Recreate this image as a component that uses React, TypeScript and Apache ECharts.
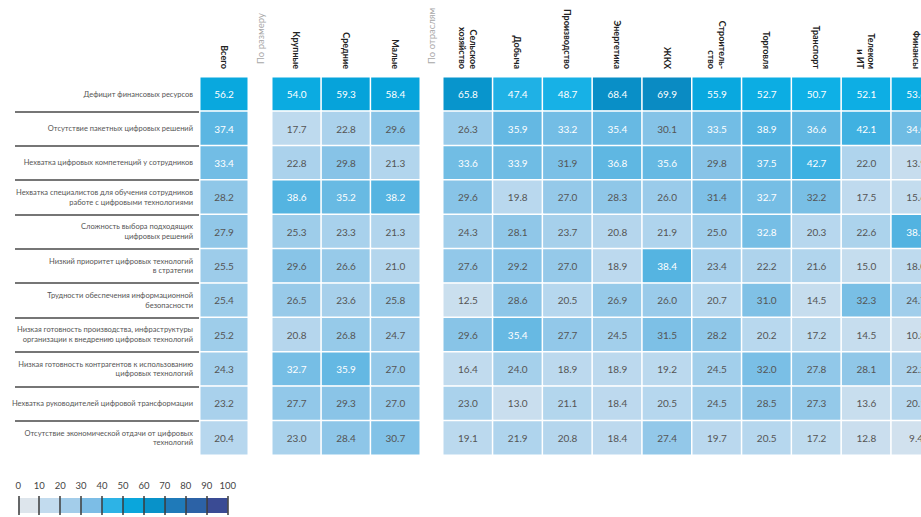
import React, { useEffect, useRef } from "react";
import * as echarts from "echarts";

const rowLabels = [
  "Дефицит финансовых ресурсов",
  "Отсутствие пакетных цифровых решений",
  "Нехватка цифровых компетенций у сотрудников",
  "Нехватка специалистов для обучения сотрудников\nработе с цифровыми технологиями",
  "Сложность выбора подходящих\nцифровых решений",
  "Низкий приоритет цифровых технологий\nв стратегии",
  "Трудности обеспечения информационной\nбезопасности",
  "Низкая готовность производства, инфраструктуры\nорганизации к внедрению цифровых технологий",
  "Низкая готовность контрагентов к использованию\nцифровых технологий",
  "Нехватка руководителей цифровой трансформации",
  "Отсутствие экономической отдачи от цифровых\nтехнологий",
];

const totalCols = ["Всего"];
const sizeCols = ["Крупные", "Средние", "Малые"];
const industryCols = [
  "Сельское\nхозяйство",
  "Добыча",
  "Производство",
  "Энергетика",
  "ЖКХ",
  "Строитель-\nство",
  "Торговля",
  "Транспорт",
  "Телеком\nи ИТ",
  "Финансы",
];
const groupTitles = ["По размеру", "По отраслям"];

const totalValues = [56.2, 37.4, 33.4, 28.2, 27.9, 25.5, 25.4, 25.2, 24.3, 23.2, 20.4];

const sizeValues = [
  [54.0, 59.3, 58.4],
  [17.7, 22.8, 29.6],
  [22.8, 29.8, 21.3],
  [38.6, 35.2, 38.2],
  [25.3, 23.3, 21.3],
  [29.6, 26.6, 21.0],
  [26.5, 23.6, 25.8],
  [20.8, 26.8, 24.7],
  [32.7, 35.9, 27.0],
  [27.7, 29.3, 27.0],
  [23.0, 28.4, 30.7],
];

const industryValues = [
  [65.8, 47.4, 48.7, 68.4, 69.9, 55.9, 52.7, 50.7, 52.1, 53.6],
  [26.3, 35.9, 33.2, 35.4, 30.1, 33.5, 38.9, 36.6, 42.1, 34.0],
  [33.6, 33.9, 31.9, 36.8, 35.6, 29.8, 37.5, 42.7, 22.0, 13.9],
  [29.6, 19.8, 27.0, 28.3, 26.0, 31.4, 32.7, 32.2, 17.5, 15.6],
  [24.3, 28.1, 23.7, 20.8, 21.9, 25.0, 32.8, 20.3, 22.6, 38.9],
  [27.6, 29.2, 27.0, 18.9, 38.4, 23.4, 22.2, 21.6, 15.0, 18.0],
  [12.5, 28.6, 20.5, 26.9, 26.0, 20.7, 31.0, 14.5, 32.3, 24.7],
  [29.6, 35.4, 27.7, 24.5, 31.5, 28.2, 20.2, 17.2, 14.5, 10.8],
  [16.4, 24.0, 18.9, 18.9, 19.2, 24.5, 32.0, 27.8, 28.1, 22.2],
  [23.0, 13.0, 21.1, 18.4, 20.5, 24.5, 28.5, 27.3, 13.6, 20.1],
  [19.1, 21.9, 20.8, 18.4, 27.4, 19.7, 20.5, 17.2, 12.8, 9.4],
];

const legendBuckets = ["0-10", "10-20", "20-30", "30-40", "40-50", "50-60", "60-70", "70-80", "80-90", "90-100"];
const legendColors = [
  "#dde5ec", "#c2dbee", "#a3cdea", "#7cbde6", "#2db3e6",
  "#0aa6dc", "#0892c9", "#1f7ab9", "#2c62a6", "#3a4b94",
];
const scaleColors = [
  "#e1e7ed", "#d0e1ee", "#b9d8ee", "#86c3e7", "#4cb1e0",
  "#0fb1e7", "#05a2d9", "#0a8bc3", "#2272b2", "#3558a0", "#3b4893",
];

const WHITE_TEXT_FROM = 32.5;
const FONT = "Lato, 'Open Sans', sans-serif";

function toCells(rows: number[][]) {
  const out: any[] = [];
  rows.forEach((row, r) =>
    row.forEach((v, c) => {
      out.push({
        value: [c, r, v],
        label: { color: v >= WHITE_TEXT_FROM ? "#ffffff" : "#555555" },
      });
    })
  );
  return out;
}

export default function App() {
  const ref = useRef<HTMLDivElement>(null);

  useEffect(() => {
    if (!ref.current) return;
    const chart = echarts.init(ref.current, null, { renderer: "svg" });

    const top = 77;
    const height = 378;

    const headerAxis = (gridIndex: number, data: string[]) => ({
      type: "category",
      gridIndex,
      data,
      position: "top",
      axisLine: { show: false },
      axisTick: { show: false },
      splitLine: { show: false },
      axisLabel: {
        rotate: 90,
        margin: 8,
        fontSize: 9,
        fontWeight: "bold",
        lineHeight: 11,
        color: "#222",
        fontFamily: FONT,
        interval: 0,
      },
    });

    const hiddenRowAxis = (gridIndex: number) => ({
      type: "category",
      gridIndex,
      data: rowLabels,
      inverse: true,
      show: false,
    });

    const heat = (idx: number, data: any[]) => ({
      type: "heatmap",
      xAxisIndex: idx,
      yAxisIndex: idx,
      data,
      itemStyle: { borderColor: "#ffffff", borderWidth: 1.5 },
      label: {
        show: true,
        fontSize: 10,
        fontFamily: FONT,
        formatter: (p: any) => Number(p.value[2]).toFixed(1),
      },
      emphasis: { disabled: true },
      silent: true,
    });

    const option: any = {
      animation: false,
      backgroundColor: "#ffffff",
      textStyle: { fontFamily: FONT },
      grid: [
        { left: 15, top, width: 184, height },
        { left: 200, top, width: 48, height },
        { left: 272, top, width: 148, height },
        { left: 443, top, width: 498, height },
        { left: 18.3, top: 496, width: 209.4, height: 19 },
      ],
      xAxis: [
        { type: "category", gridIndex: 0, data: [""], show: false },
        headerAxis(1, totalCols),
        headerAxis(2, sizeCols),
        headerAxis(3, industryCols),
        { type: "category", gridIndex: 4, data: legendBuckets, show: false },
        {
          type: "value",
          gridIndex: 4,
          min: 0,
          max: 100,
          interval: 10,
          position: "top",
          z: 10,
          axisLine: { show: false },
          axisTick: { show: false },
          axisLabel: { margin: 6, fontSize: 9.5, color: "#444", fontFamily: FONT },
          splitLine: { show: true, lineStyle: { color: "#3a3a3a", width: 1.5 } },
        },
      ],
      yAxis: [
        {
          type: "category",
          gridIndex: 0,
          data: rowLabels,
          inverse: true,
          position: "right",
          axisLine: { show: false },
          axisTick: { show: false },
          axisLabel: {
            inside: true,
            margin: 6,
            fontSize: 7.5,
            lineHeight: 9.5,
            color: "#555",
            fontFamily: FONT,
            interval: 0,
          },
          splitLine: {
            show: true,
            showMinLine: false,
            showMaxLine: false,
            lineStyle: { color: "#484848", width: 1.6 },
          },
        },
        hiddenRowAxis(1),
        hiddenRowAxis(2),
        hiddenRowAxis(3),
        { type: "value", gridIndex: 4, min: -2, max: 17, show: false },
      ],
      visualMap: {
        type: "continuous",
        show: false,
        min: 0,
        max: 100,
        dimension: 2,
        seriesIndex: [0, 1, 2],
        inRange: { color: scaleColors },
      },
      graphic: groupTitles.map((t, i) => ({
        type: "text",
        x: i === 0 ? 260 : 431.5,
        y: 64,
        rotation: Math.PI / 2,
        style: {
          text: t,
          fontSize: 9.5,
          fill: "#a8a8a8",
          fontFamily: FONT,
          align: "left",
          verticalAlign: "middle",
        },
      })),
      series: [
        heat(1, toCells(totalValues.map((v) => [v]))),
        heat(2, toCells(sizeValues)),
        heat(3, toCells(industryValues)),
        {
          type: "bar",
          xAxisIndex: 4,
          yAxisIndex: 4,
          barCategoryGap: "0%",
          silent: true,
          data: legendColors.map((c) => ({ value: 15, itemStyle: { color: c } })),
        },
      ],
    };

    chart.setOption(option);
    return () => chart.dispose();
  }, []);

  return (
    <div
      style={{
        position: "absolute",
        left: 0,
        top: 0,
        width: 921,
        height: 517,
        overflow: "hidden",
        background: "#fff",
      }}
    >
      <div ref={ref} style={{ width: 960, height: 517 }} />
    </div>
  );
}
